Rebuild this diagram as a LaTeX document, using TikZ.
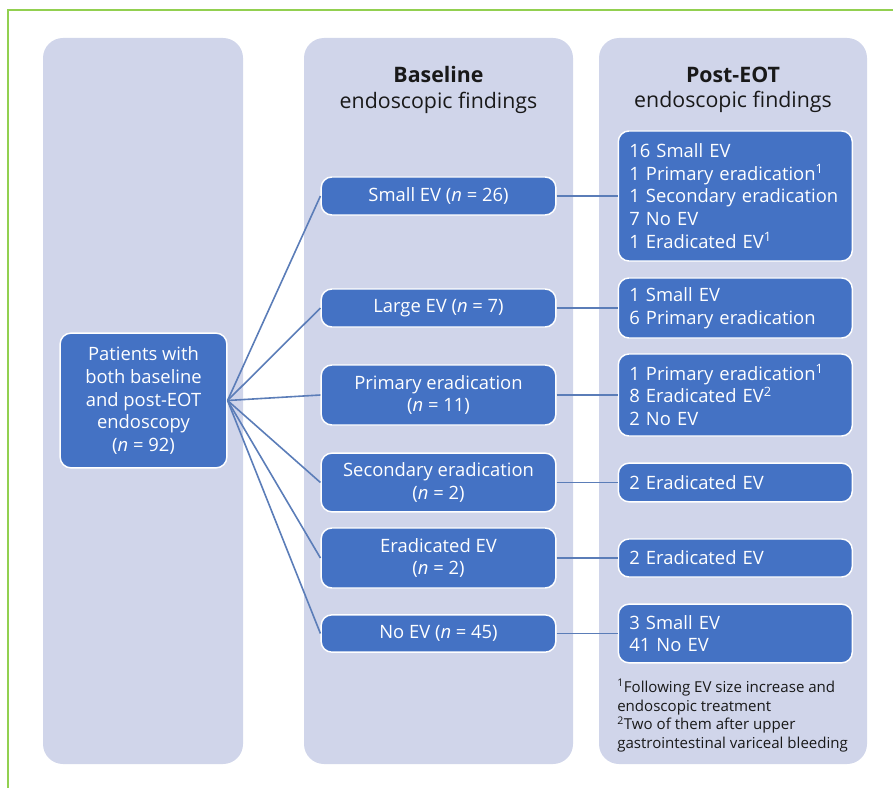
\documentclass[tikz,border=0pt]{standalone}
\usepackage{fontspec}
\setmainfont{Open Sans}
\usetikzlibrary{positioning}
\definecolor{colbg}{HTML}{D0D5EA}
\definecolor{boxblue}{HTML}{4472C4}
\definecolor{linkblue}{HTML}{5B7DB8}
\definecolor{framegreen}{HTML}{92D050}
\newcommand{\nn}[1]{(\textit{n} = #1)}

\begin{document}
\begin{tikzpicture}[x=0.75pt,y=-0.75pt,
  column/.style={fill=colbg,rounded corners=15pt},
  heading/.style={align=center,inner sep=0pt,text=black!90,font=\fontsize{16}{19}\selectfont},
  finding/.style={draw=white,line width=1.1pt,fill=boxblue,text=white,rounded corners=8pt,
    font=\fontsize{13.8}{17}\selectfont,inner ysep=0pt},
  base/.style={finding,minimum width=176pt,align=center,inner xsep=0pt},
  post/.style={finding,text width=159pt,inner xsep=8.25pt,align=left},
  link/.style={draw=linkblue,line width=1.2pt}]
  \useasboundingbox (0,0) rectangle (893,788);
  % frame and the three columns
  \draw[framegreen,line width=1.3pt] (8,788) -- (8,10) -- (893,10);
  \fill[column] (43,38) rectangle (243,764);
  \fill[column] (304,38) rectangle (573,764);
  \fill[column] (599,38) rectangle (867,764);
  \node[heading] (hbase) at (438.5,90) {\textbf{Baseline}\\endoscopic findings};
  \node[heading] (hpost) at (733,90) {\textbf{Post-EOT}\\endoscopic findings};

  \node[finding,align=center,minimum width=125pt,minimum height=101pt,inner xsep=0pt] (pat) at (143.5,400.5)
    {Patients with\\both baseline\\and post-EOT\\endoscopy\\\nn{92}};

  % baseline findings
  \node[base,minimum height=28.5pt] (b1) at (438.5,196) {Small EV \nn{26}};
  \node[base,minimum height=28.5pt] (b2) at (438.5,308) {Large EV \nn{7}};
  \node[base,minimum height=45pt] (b3) at (438.5,395) {Primary eradication\\\nn{11}};
  \node[base,minimum height=44pt] (b4) at (438.5,482.5) {Secondary eradication\\\nn{2}};
  \node[base,minimum height=45pt] (b5) at (438.5,558) {Eradicated EV\\\nn{2}};
  \node[base,minimum height=28pt] (b6) at (438.5,633.5) {No EV \nn{45}};

  % post-EOT findings
  \node[post,minimum height=97.5pt,right=45.75pt of b1] (p1)
    {16 Small EV\\1 Primary eradication\textsuperscript{1}\\1 Secondary eradication\\7 No EV\\1 Eradicated EV\textsuperscript{1}};
  \node[post,minimum height=45pt,right=45.75pt of b2] (p2) {1 Small EV\\6 Primary eradication};
  \node[post,minimum height=61.5pt,right=45.75pt of b3] (p3)
    {1 Primary eradication\textsuperscript{1}\\8 Eradicated EV\textsuperscript{2}\\2 No EV};
  \node[post,minimum height=29pt,right=45.75pt of b4] (p4) {2 Eradicated EV};
  \node[post,minimum height=28.5pt,right=45.75pt of b5] (p5) {2 Eradicated EV};
  \node[post,minimum height=44pt,right=45.75pt of b6] (p6) {3 Small EV\\41 No EV};

  \node[anchor=north west,inner sep=0pt,align=left,text=black!90,font=\fontsize{11.3}{14.2}\selectfont] (notes) at (617,679)
    {\textsuperscript{1}Following EV size increase and\\endoscopic treatment\\\textsuperscript{2}Two of them after upper\\gastrointestinal variceal bleeding};

  \foreach \i in {1,...,6} {
    \draw[link] (pat.east) -- (b\i.west);
    \draw[link] (b\i.east) -- (p\i.west);
  }
\end{tikzpicture}
\end{document}
